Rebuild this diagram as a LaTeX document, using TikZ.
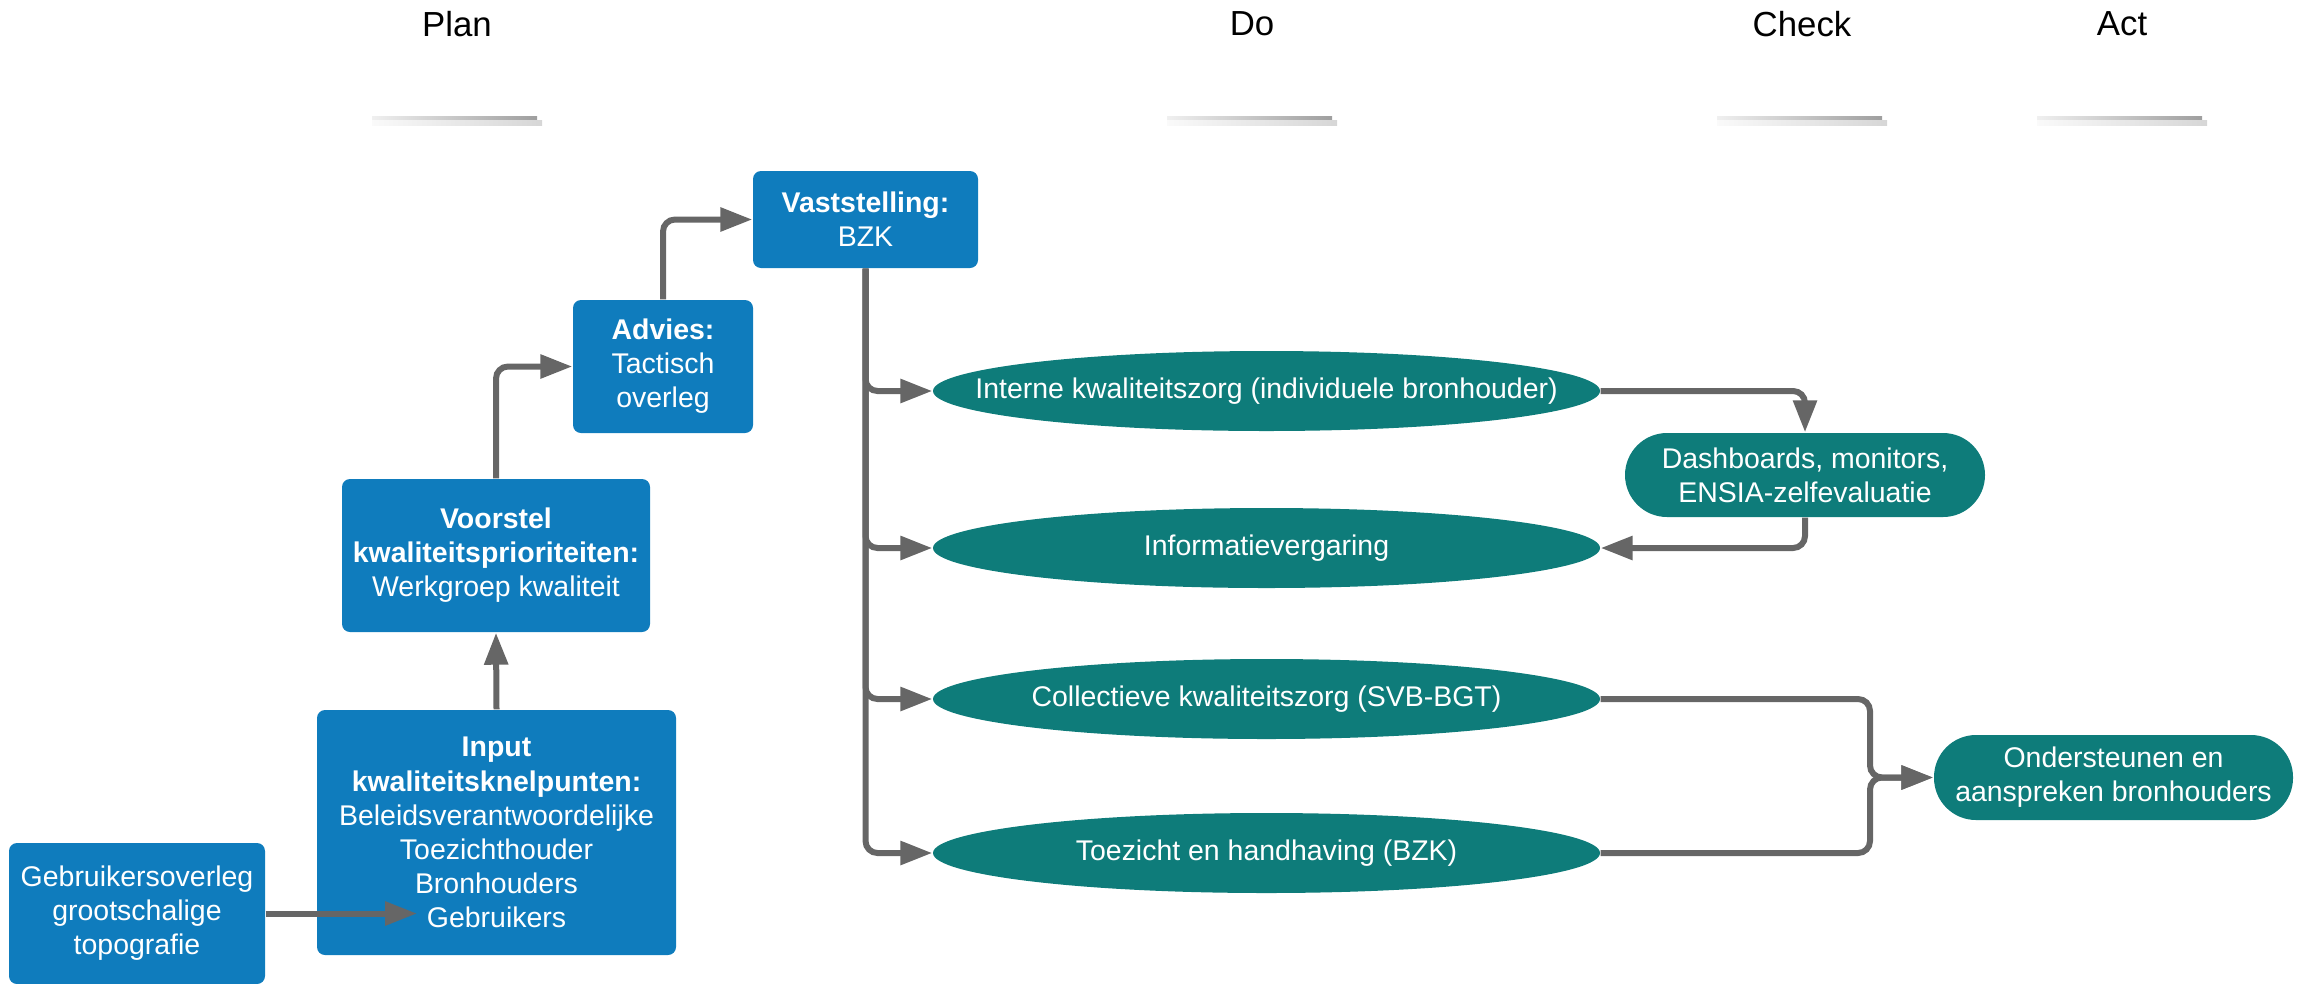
\documentclass[tikz,border=0pt]{standalone}
\usepackage{fontspec}
\setmainfont{Liberation Sans}
\usepackage{tikz}
\usetikzlibrary{arrows.meta, shapes.geometric}
\definecolor{boxblue}{RGB}{15,124,189}
\definecolor{ovalteal}{RGB}{14,124,122}
\definecolor{flowgray}{RGB}{102,102,102}

\begin{document}
\begin{tikzpicture} [
    x=0.1mm, y=-0.1mm,
    every node/.style = {font=\fontsize{8.1}{9.7}\selectfont, text=white, align=center, inner sep=0pt},
    box/.style = {rectangle, rounded corners=0.8mm, fill=boxblue},
    oval/.style = {ellipse, fill=ovalteal, inner xsep=-6mm, inner ysep=-3mm, minimum width=66.7mm, minimum height=8mm},
    pill/.style = {rectangle, rounded corners=4.2mm, fill=ovalteal},
    phase/.style = {text=black, font=\fontsize{9.9}{12}\selectfont},
    flow/.style = {draw=flowgray, line width=0.6mm, rounded corners=1.2mm, -{Triangle[length=3.2mm, width=2.3mm]}}
]
    \useasboundingbox (0,0) rectangle (2305,983);

    \foreach \n/\x/\t in {plan/457/Plan, do/1252/Do, check/1802/Check, act/2122/Act} {
        \node[phase] (\n) at (\x,24) {\t};
        \shade[left color=black!6, right color=black!38] (\x-85,116) rectangle (\x+80,120);
        \shade[left color=black!2, right color=black!16] (\x-85,120) rectangle (\x+85,125);
    }

    \node[box, minimum width=25.6mm, minimum height=14.1mm] (geb) at (137,913.5)
        {Gebruikersoverleg\\grootschalige\\topografie};
    \node[box, minimum width=35.9mm, minimum height=24.5mm] (inp) at (496.5,832.5)
        {\textbf{Input}\\\textbf{kwaliteitsknelpunten:}\\Beleidsverantwoordelijke\\Toezichthouder\\Bronhouders\\Gebruikers};
    \node[box, minimum width=30.8mm, minimum height=15.3mm] (voo) at (496,555.5)
        {\textbf{Voorstel}\\\textbf{kwaliteitsprioriteiten:}\\Werkgroep kwaliteit};
    \node[box, minimum width=18mm, minimum height=13.3mm] (adv) at (663,366.5)
        {\textbf{Advies:}\\Tactisch\\overleg};
    \node[box, minimum width=22.5mm, minimum height=9.7mm] (vas) at (865.5,219.5)
        {\textbf{Vaststelling:}\\BZK};

    \node[oval] (int) at (1266.5,391) {Interne kwaliteitszorg (individuele bronhouder)};
    \node[oval] (inf) at (1266.5,548) {Informatievergaring};
    \node[oval] (col) at (1266.5,699) {Collectieve kwaliteitszorg (SVB-BGT)};
    \node[oval] (toe) at (1266.5,853) {Toezicht en handhaving (BZK)};
    \node[pill, minimum width=36mm, minimum height=8.4mm] (das) at (1805,475)
        {Dashboards, monitors,\\ENSIA-zelfevaluatie};
    \node[pill, minimum width=35.9mm, minimum height=8.5mm] (ond) at (2113.5,777.5)
        {Ondersteunen en\\aanspreken bronhouders};

    \coordinate (gebin) at (417,913.5);
    \coordinate (join) at (1870,777.5);

    \draw[flow] (geb.east) -- (gebin);
    \draw[flow] (inp.north) -- (voo.south);
    \draw[flow] (voo.north) |- (adv.west);
    \draw[flow] (adv.north) |- (vas.west);
    \foreach \n in {int, inf, col, toe}
        \draw[flow] (vas.south) |- (\n.west);
    \draw[flow] (int.east) -| (das.north);
    \draw[flow] (das.south) |- (inf.east);
    \draw[flow] (col.east) -| (join) -- (ond.west);
    \draw[flow] (toe.east) -| (join) -- (ond.west);
\end{tikzpicture}
\end{document}
